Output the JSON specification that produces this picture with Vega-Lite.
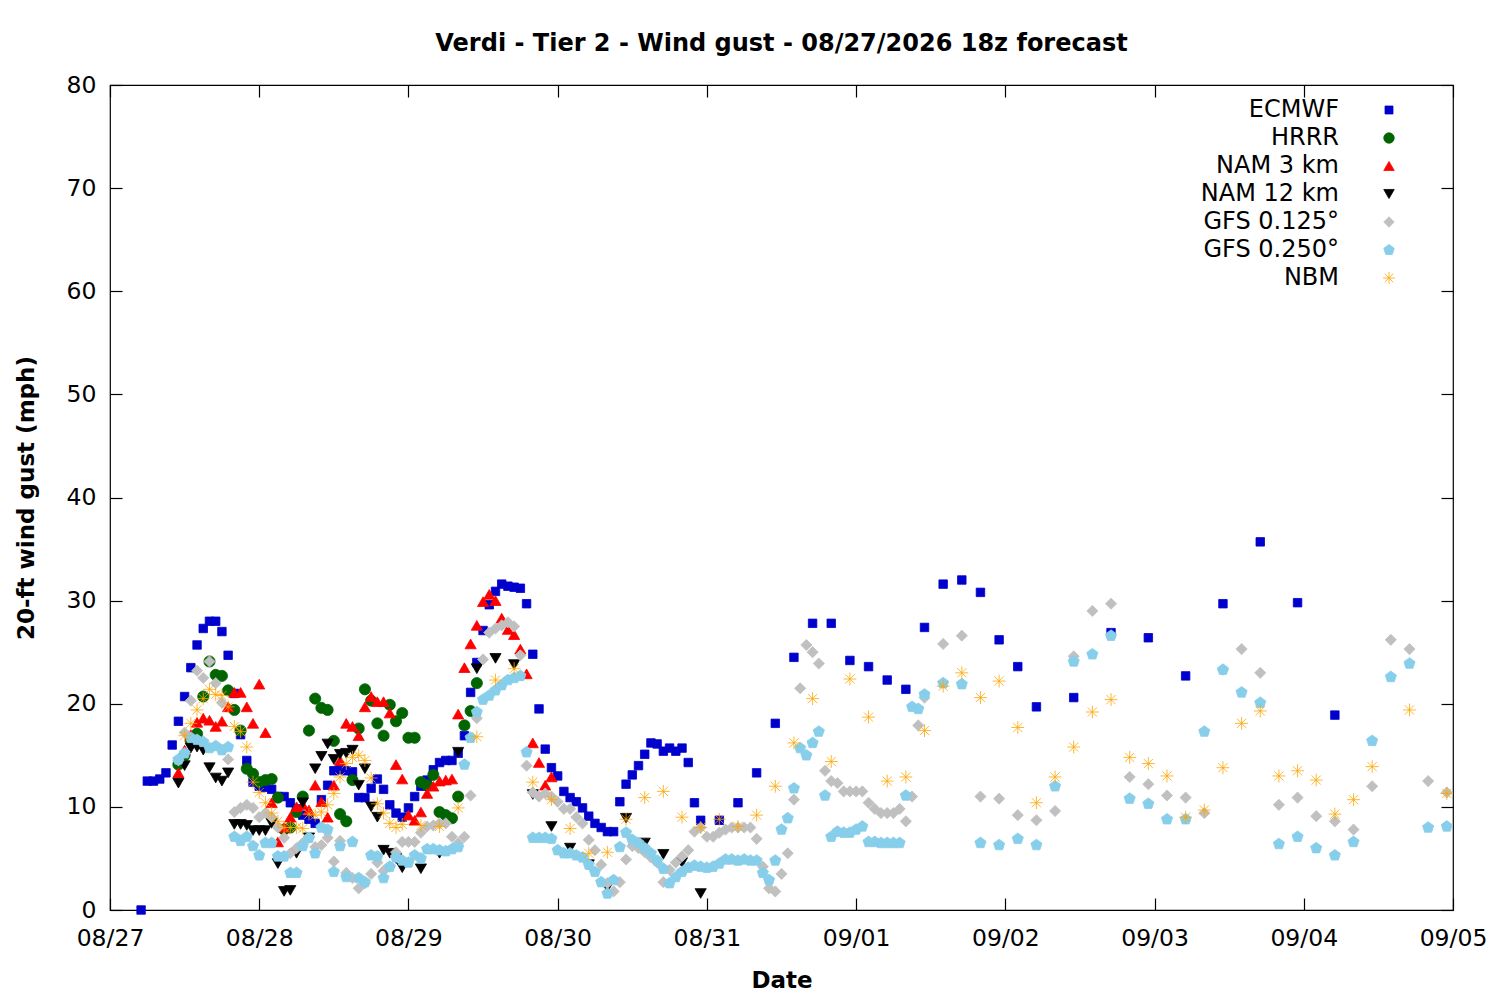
{
  "$schema": "https://vega.github.io/schema/vega-lite/v6.json",
  "width": 1343,
  "height": 825,
  "autosize": {"type": "none"},
  "padding": {"left": 110, "top": 85, "right": 47, "bottom": 90},
  "background": "white",
  "title": {
    "text": "Verdi - Tier 2 - Wind gust - 08/27/2026 18z forecast",
    "font": "DejaVu Sans",
    "fontSize": 24,
    "fontWeight": "bold",
    "color": "black",
    "anchor": "middle",
    "offset": 17
  },
  "config": {
    "view": {"stroke": "black", "strokeWidth": 1.2},
    "axis": {
      "grid": false,
      "domain": false,
      "tickColor": "black",
      "tickWidth": 1.2,
      "tickSize": -12,
      "labelFont": "DejaVu Sans",
      "labelFontSize": 23.5,
      "labelColor": "black",
      "labelOverlap": false,
      "labelFlush": false,
      "titleFont": "DejaVu Sans",
      "titleFontSize": 23,
      "titleFontWeight": "bold",
      "titleColor": "black"
    }
  },
  "data": {
    "values": [
      {"model":"ECMWF","h":5,"v":0},{"model":"ECMWF","h":6,"v":12.5},{"model":"ECMWF","h":7,"v":12.5},{"model":"ECMWF","h":8,"v":12.7},{"model":"ECMWF","h":9,"v":13.3},{"model":"ECMWF","h":10,"v":16.0},{"model":"ECMWF","h":11,"v":18.3},{"model":"ECMWF","h":12,"v":20.7},{"model":"ECMWF","h":13,"v":23.5},{"model":"ECMWF","h":14,"v":25.7},{"model":"ECMWF","h":15,"v":27.3},{"model":"ECMWF","h":16,"v":28.0},{"model":"ECMWF","h":17,"v":28.0},{"model":"ECMWF","h":18,"v":27.0},{"model":"ECMWF","h":19,"v":24.7},{"model":"ECMWF","h":20,"v":21.0},{"model":"ECMWF","h":21,"v":17.0},{"model":"ECMWF","h":22,"v":14.5},{"model":"ECMWF","h":23,"v":12.4},{"model":"ECMWF","h":24,"v":12.0},{"model":"ECMWF","h":25,"v":11.9},{"model":"ECMWF","h":26,"v":11.7},{"model":"ECMWF","h":27,"v":11.0},{"model":"ECMWF","h":28,"v":11.0},{"model":"ECMWF","h":29,"v":10.4},{"model":"ECMWF","h":30,"v":9.8},{"model":"ECMWF","h":31,"v":9.2},{"model":"ECMWF","h":32,"v":8.8},{"model":"ECMWF","h":33,"v":8.4},{"model":"ECMWF","h":34,"v":10.7},{"model":"ECMWF","h":35,"v":12.1},{"model":"ECMWF","h":36,"v":13.5},{"model":"ECMWF","h":37,"v":13.6},{"model":"ECMWF","h":38,"v":13.5},{"model":"ECMWF","h":39,"v":13.4},{"model":"ECMWF","h":40,"v":10.9},{"model":"ECMWF","h":41,"v":10.9},{"model":"ECMWF","h":42,"v":11.8},{"model":"ECMWF","h":43,"v":12.7},{"model":"ECMWF","h":44,"v":11.7},{"model":"ECMWF","h":45,"v":10.2},{"model":"ECMWF","h":46,"v":9.4},{"model":"ECMWF","h":47,"v":9.0},{"model":"ECMWF","h":48,"v":9.9},{"model":"ECMWF","h":49,"v":11.0},{"model":"ECMWF","h":50,"v":12.0},{"model":"ECMWF","h":51,"v":12.6},{"model":"ECMWF","h":52,"v":13.6},{"model":"ECMWF","h":53,"v":14.3},{"model":"ECMWF","h":54,"v":14.5},{"model":"ECMWF","h":55,"v":14.5},{"model":"ECMWF","h":56,"v":15.2},{"model":"ECMWF","h":57,"v":16.9},{"model":"ECMWF","h":58,"v":21.1},{"model":"ECMWF","h":59,"v":24.0},{"model":"ECMWF","h":60,"v":27.1},{"model":"ECMWF","h":61,"v":29.6},{"model":"ECMWF","h":62,"v":30.9},{"model":"ECMWF","h":63,"v":31.6},{"model":"ECMWF","h":64,"v":31.4},{"model":"ECMWF","h":65,"v":31.3},{"model":"ECMWF","h":66,"v":31.2},{"model":"ECMWF","h":67,"v":29.7},{"model":"ECMWF","h":68,"v":24.8},{"model":"ECMWF","h":69,"v":19.5},{"model":"ECMWF","h":70,"v":15.6},{"model":"ECMWF","h":71,"v":13.8},{"model":"ECMWF","h":72,"v":13.0},{"model":"ECMWF","h":73,"v":11.5},{"model":"ECMWF","h":74,"v":10.9},{"model":"ECMWF","h":75,"v":10.5},{"model":"ECMWF","h":76,"v":9.9},{"model":"ECMWF","h":77,"v":9.1},{"model":"ECMWF","h":78,"v":8.4},{"model":"ECMWF","h":79,"v":8.0},{"model":"ECMWF","h":80,"v":7.6},{"model":"ECMWF","h":81,"v":7.6},{"model":"ECMWF","h":82,"v":10.5},{"model":"ECMWF","h":83,"v":12.2},{"model":"ECMWF","h":84,"v":13.1},{"model":"ECMWF","h":85,"v":14.0},{"model":"ECMWF","h":86,"v":15.1},{"model":"ECMWF","h":87,"v":16.2},{"model":"ECMWF","h":88,"v":16.1},{"model":"ECMWF","h":89,"v":15.4},{"model":"ECMWF","h":90,"v":15.7},{"model":"ECMWF","h":91,"v":15.4},{"model":"ECMWF","h":92,"v":15.7},{"model":"ECMWF","h":93,"v":14.3},{"model":"ECMWF","h":94,"v":10.4},{"model":"ECMWF","h":95,"v":8.7},{"model":"ECMWF","h":98,"v":8.7},{"model":"ECMWF","h":101,"v":10.4},{"model":"ECMWF","h":104,"v":13.3},{"model":"ECMWF","h":107,"v":18.1},{"model":"ECMWF","h":110,"v":24.5},{"model":"ECMWF","h":113,"v":27.8},{"model":"ECMWF","h":116,"v":27.8},{"model":"ECMWF","h":119,"v":24.2},{"model":"ECMWF","h":122,"v":23.6},{"model":"ECMWF","h":125,"v":22.3},{"model":"ECMWF","h":128,"v":21.4},{"model":"ECMWF","h":131,"v":27.4},{"model":"ECMWF","h":134,"v":31.6},{"model":"ECMWF","h":137,"v":32.0},{"model":"ECMWF","h":140,"v":30.8},{"model":"ECMWF","h":143,"v":26.2},{"model":"ECMWF","h":146,"v":23.6},{"model":"ECMWF","h":149,"v":19.7},{"model":"ECMWF","h":155,"v":20.6},{"model":"ECMWF","h":161,"v":26.9},{"model":"ECMWF","h":167,"v":26.4},{"model":"ECMWF","h":173,"v":22.7},{"model":"ECMWF","h":179,"v":29.7},{"model":"ECMWF","h":185,"v":35.7},{"model":"ECMWF","h":191,"v":29.8},{"model":"ECMWF","h":197,"v":18.9},

      {"model":"HRRR","h":11,"v":14.1},{"model":"HRRR","h":12,"v":15.0},{"model":"HRRR","h":13,"v":16.4},{"model":"HRRR","h":14,"v":17.1},{"model":"HRRR","h":15,"v":20.7},{"model":"HRRR","h":16,"v":24.1},{"model":"HRRR","h":17,"v":22.8},{"model":"HRRR","h":18,"v":22.7},{"model":"HRRR","h":19,"v":21.3},{"model":"HRRR","h":20,"v":19.4},{"model":"HRRR","h":21,"v":17.4},{"model":"HRRR","h":22,"v":13.7},{"model":"HRRR","h":23,"v":13.2},{"model":"HRRR","h":24,"v":12.4},{"model":"HRRR","h":25,"v":12.6},{"model":"HRRR","h":26,"v":12.7},{"model":"HRRR","h":27,"v":10.9},{"model":"HRRR","h":28,"v":7.8},{"model":"HRRR","h":29,"v":8.0},{"model":"HRRR","h":30,"v":9.5},{"model":"HRRR","h":31,"v":11.0},{"model":"HRRR","h":32,"v":17.4},{"model":"HRRR","h":33,"v":20.5},{"model":"HRRR","h":34,"v":19.6},{"model":"HRRR","h":35,"v":19.4},{"model":"HRRR","h":36,"v":16.4},{"model":"HRRR","h":37,"v":9.3},{"model":"HRRR","h":38,"v":8.6},{"model":"HRRR","h":39,"v":12.6},{"model":"HRRR","h":40,"v":17.6},{"model":"HRRR","h":41,"v":21.4},{"model":"HRRR","h":42,"v":20.3},{"model":"HRRR","h":43,"v":18.1},{"model":"HRRR","h":44,"v":16.9},{"model":"HRRR","h":45,"v":19.9},{"model":"HRRR","h":46,"v":18.3},{"model":"HRRR","h":47,"v":19.1},{"model":"HRRR","h":48,"v":16.7},{"model":"HRRR","h":49,"v":16.7},{"model":"HRRR","h":50,"v":12.4},{"model":"HRRR","h":51,"v":12.1},{"model":"HRRR","h":52,"v":13.1},{"model":"HRRR","h":53,"v":9.5},{"model":"HRRR","h":54,"v":9.2},{"model":"HRRR","h":55,"v":8.9},{"model":"HRRR","h":56,"v":11.0},{"model":"HRRR","h":57,"v":17.9},{"model":"HRRR","h":58,"v":19.3},{"model":"HRRR","h":59,"v":22.0},

      {"model":"NAM 3 km","h":11,"v":13.3},{"model":"NAM 3 km","h":12,"v":15.5},{"model":"NAM 3 km","h":13,"v":17.0},{"model":"NAM 3 km","h":14,"v":18.2},{"model":"NAM 3 km","h":15,"v":18.6},{"model":"NAM 3 km","h":16,"v":18.4},{"model":"NAM 3 km","h":17,"v":17.8},{"model":"NAM 3 km","h":18,"v":18.3},{"model":"NAM 3 km","h":19,"v":19.7},{"model":"NAM 3 km","h":20,"v":21.1},{"model":"NAM 3 km","h":21,"v":21.1},{"model":"NAM 3 km","h":22,"v":19.7},{"model":"NAM 3 km","h":23,"v":18.1},{"model":"NAM 3 km","h":24,"v":21.9},{"model":"NAM 3 km","h":25,"v":17.2},{"model":"NAM 3 km","h":26,"v":10.4},{"model":"NAM 3 km","h":27,"v":6.6},{"model":"NAM 3 km","h":28,"v":8.0},{"model":"NAM 3 km","h":29,"v":9.0},{"model":"NAM 3 km","h":30,"v":10.0},{"model":"NAM 3 km","h":31,"v":10.2},{"model":"NAM 3 km","h":32,"v":9.7},{"model":"NAM 3 km","h":33,"v":12.1},{"model":"NAM 3 km","h":34,"v":10.5},{"model":"NAM 3 km","h":35,"v":9.0},{"model":"NAM 3 km","h":36,"v":12.1},{"model":"NAM 3 km","h":37,"v":14.5},{"model":"NAM 3 km","h":38,"v":18.1},{"model":"NAM 3 km","h":39,"v":17.8},{"model":"NAM 3 km","h":40,"v":16.9},{"model":"NAM 3 km","h":41,"v":19.7},{"model":"NAM 3 km","h":42,"v":20.7},{"model":"NAM 3 km","h":43,"v":20.2},{"model":"NAM 3 km","h":44,"v":20.2},{"model":"NAM 3 km","h":45,"v":19.1},{"model":"NAM 3 km","h":46,"v":14.1},{"model":"NAM 3 km","h":47,"v":12.7},{"model":"NAM 3 km","h":48,"v":9.2},{"model":"NAM 3 km","h":49,"v":8.7},{"model":"NAM 3 km","h":50,"v":9.5},{"model":"NAM 3 km","h":51,"v":11.3},{"model":"NAM 3 km","h":52,"v":12.0},{"model":"NAM 3 km","h":53,"v":12.5},{"model":"NAM 3 km","h":54,"v":12.6},{"model":"NAM 3 km","h":55,"v":12.7},{"model":"NAM 3 km","h":56,"v":19.0},{"model":"NAM 3 km","h":57,"v":23.5},{"model":"NAM 3 km","h":58,"v":25.8},{"model":"NAM 3 km","h":59,"v":27.6},{"model":"NAM 3 km","h":60,"v":29.9},{"model":"NAM 3 km","h":61,"v":30.6},{"model":"NAM 3 km","h":62,"v":30.0},{"model":"NAM 3 km","h":63,"v":28.3},{"model":"NAM 3 km","h":64,"v":27.2},{"model":"NAM 3 km","h":65,"v":26.7},{"model":"NAM 3 km","h":66,"v":25.3},{"model":"NAM 3 km","h":67,"v":22.9},{"model":"NAM 3 km","h":68,"v":16.2},{"model":"NAM 3 km","h":69,"v":14.3},{"model":"NAM 3 km","h":70,"v":12.1},{"model":"NAM 3 km","h":71,"v":12.9},

      {"model":"NAM 12 km","h":11,"v":12.3},{"model":"NAM 12 km","h":12,"v":14.0},{"model":"NAM 12 km","h":13,"v":15.7},{"model":"NAM 12 km","h":14,"v":15.8},{"model":"NAM 12 km","h":15,"v":15.5},{"model":"NAM 12 km","h":16,"v":13.8},{"model":"NAM 12 km","h":17,"v":12.8},{"model":"NAM 12 km","h":18,"v":12.5},{"model":"NAM 12 km","h":19,"v":13.3},{"model":"NAM 12 km","h":20,"v":8.3},{"model":"NAM 12 km","h":21,"v":8.3},{"model":"NAM 12 km","h":22,"v":8.2},{"model":"NAM 12 km","h":23,"v":7.7},{"model":"NAM 12 km","h":24,"v":7.7},{"model":"NAM 12 km","h":25,"v":7.7},{"model":"NAM 12 km","h":26,"v":8.4},{"model":"NAM 12 km","h":27,"v":4.5},{"model":"NAM 12 km","h":28,"v":1.8},{"model":"NAM 12 km","h":29,"v":1.9},{"model":"NAM 12 km","h":30,"v":5.5},{"model":"NAM 12 km","h":31,"v":10.4},{"model":"NAM 12 km","h":32,"v":7.0},{"model":"NAM 12 km","h":33,"v":13.7},{"model":"NAM 12 km","h":34,"v":14.9},{"model":"NAM 12 km","h":35,"v":16.1},{"model":"NAM 12 km","h":36,"v":14.6},{"model":"NAM 12 km","h":37,"v":15.1},{"model":"NAM 12 km","h":38,"v":15.2},{"model":"NAM 12 km","h":39,"v":15.5},{"model":"NAM 12 km","h":40,"v":12.1},{"model":"NAM 12 km","h":41,"v":13.7},{"model":"NAM 12 km","h":42,"v":10.0},{"model":"NAM 12 km","h":43,"v":9.0},{"model":"NAM 12 km","h":44,"v":5.8},{"model":"NAM 12 km","h":45,"v":5.5},{"model":"NAM 12 km","h":46,"v":5.0},{"model":"NAM 12 km","h":47,"v":4.1},{"model":"NAM 12 km","h":50,"v":4.0},{"model":"NAM 12 km","h":53,"v":5.5},{"model":"NAM 12 km","h":56,"v":15.3},{"model":"NAM 12 km","h":59,"v":23.4},{"model":"NAM 12 km","h":62,"v":24.4},{"model":"NAM 12 km","h":65,"v":23.8},{"model":"NAM 12 km","h":68,"v":11.2},{"model":"NAM 12 km","h":71,"v":8.1},{"model":"NAM 12 km","h":74,"v":6.0},{"model":"NAM 12 km","h":77,"v":4.4},{"model":"NAM 12 km","h":80,"v":2.2},{"model":"NAM 12 km","h":83,"v":8.9},{"model":"NAM 12 km","h":86,"v":6.5},{"model":"NAM 12 km","h":89,"v":5.4},{"model":"NAM 12 km","h":92,"v":4.6},{"model":"NAM 12 km","h":95,"v":1.6},

      {"model":"GFS 0.125°","h":11,"v":14.5},{"model":"GFS 0.125°","h":12,"v":17.2},{"model":"GFS 0.125°","h":13,"v":20.3},{"model":"GFS 0.125°","h":14,"v":23.2},{"model":"GFS 0.125°","h":15,"v":22.5},{"model":"GFS 0.125°","h":16,"v":24.1},{"model":"GFS 0.125°","h":17,"v":22.0},{"model":"GFS 0.125°","h":18,"v":20.1},{"model":"GFS 0.125°","h":19,"v":14.6},{"model":"GFS 0.125°","h":20,"v":9.5},{"model":"GFS 0.125°","h":21,"v":9.9},{"model":"GFS 0.125°","h":22,"v":10.2},{"model":"GFS 0.125°","h":23,"v":9.9},{"model":"GFS 0.125°","h":24,"v":9.0},{"model":"GFS 0.125°","h":25,"v":9.4},{"model":"GFS 0.125°","h":26,"v":9.0},{"model":"GFS 0.125°","h":27,"v":8.0},{"model":"GFS 0.125°","h":28,"v":7.0},{"model":"GFS 0.125°","h":29,"v":5.5},{"model":"GFS 0.125°","h":30,"v":6.0},{"model":"GFS 0.125°","h":31,"v":6.5},{"model":"GFS 0.125°","h":32,"v":7.0},{"model":"GFS 0.125°","h":33,"v":6.1},{"model":"GFS 0.125°","h":34,"v":6.3},{"model":"GFS 0.125°","h":35,"v":7.0},{"model":"GFS 0.125°","h":36,"v":4.7},{"model":"GFS 0.125°","h":37,"v":6.7},{"model":"GFS 0.125°","h":38,"v":3.6},{"model":"GFS 0.125°","h":39,"v":3.1},{"model":"GFS 0.125°","h":40,"v":2.1},{"model":"GFS 0.125°","h":41,"v":2.6},{"model":"GFS 0.125°","h":42,"v":3.5},{"model":"GFS 0.125°","h":43,"v":4.6},{"model":"GFS 0.125°","h":44,"v":3.8},{"model":"GFS 0.125°","h":45,"v":4.2},{"model":"GFS 0.125°","h":46,"v":5.6},{"model":"GFS 0.125°","h":47,"v":6.6},{"model":"GFS 0.125°","h":48,"v":6.6},{"model":"GFS 0.125°","h":49,"v":6.6},{"model":"GFS 0.125°","h":50,"v":7.5},{"model":"GFS 0.125°","h":51,"v":8.1},{"model":"GFS 0.125°","h":52,"v":8.2},{"model":"GFS 0.125°","h":53,"v":8.4},{"model":"GFS 0.125°","h":54,"v":8.4},{"model":"GFS 0.125°","h":55,"v":7.1},{"model":"GFS 0.125°","h":56,"v":6.5},{"model":"GFS 0.125°","h":57,"v":7.1},{"model":"GFS 0.125°","h":58,"v":11.1},{"model":"GFS 0.125°","h":59,"v":18.6},{"model":"GFS 0.125°","h":60,"v":24.3},{"model":"GFS 0.125°","h":61,"v":26.9},{"model":"GFS 0.125°","h":62,"v":27.3},{"model":"GFS 0.125°","h":63,"v":27.6},{"model":"GFS 0.125°","h":64,"v":27.9},{"model":"GFS 0.125°","h":65,"v":27.5},{"model":"GFS 0.125°","h":66,"v":24.7},{"model":"GFS 0.125°","h":67,"v":14.0},{"model":"GFS 0.125°","h":68,"v":11.4},{"model":"GFS 0.125°","h":69,"v":11.0},{"model":"GFS 0.125°","h":70,"v":11.3},{"model":"GFS 0.125°","h":71,"v":11.0},{"model":"GFS 0.125°","h":72,"v":10.5},{"model":"GFS 0.125°","h":73,"v":9.8},{"model":"GFS 0.125°","h":74,"v":9.8},{"model":"GFS 0.125°","h":75,"v":9.0},{"model":"GFS 0.125°","h":76,"v":8.4},{"model":"GFS 0.125°","h":77,"v":6.8},{"model":"GFS 0.125°","h":78,"v":5.8},{"model":"GFS 0.125°","h":79,"v":4.4},{"model":"GFS 0.125°","h":80,"v":2.6},{"model":"GFS 0.125°","h":81,"v":1.8},{"model":"GFS 0.125°","h":82,"v":2.7},{"model":"GFS 0.125°","h":83,"v":4.9},{"model":"GFS 0.125°","h":84,"v":6.2},{"model":"GFS 0.125°","h":85,"v":6.0},{"model":"GFS 0.125°","h":86,"v":5.6},{"model":"GFS 0.125°","h":87,"v":5.1},{"model":"GFS 0.125°","h":88,"v":4.6},{"model":"GFS 0.125°","h":89,"v":2.7},{"model":"GFS 0.125°","h":90,"v":3.9},{"model":"GFS 0.125°","h":91,"v":4.6},{"model":"GFS 0.125°","h":92,"v":5.2},{"model":"GFS 0.125°","h":93,"v":5.8},{"model":"GFS 0.125°","h":94,"v":7.6},{"model":"GFS 0.125°","h":95,"v":8.0},{"model":"GFS 0.125°","h":96,"v":7.1},{"model":"GFS 0.125°","h":97,"v":7.1},{"model":"GFS 0.125°","h":98,"v":7.5},{"model":"GFS 0.125°","h":99,"v":7.8},{"model":"GFS 0.125°","h":100,"v":8.0},{"model":"GFS 0.125°","h":101,"v":8.0},{"model":"GFS 0.125°","h":102,"v":8.0},{"model":"GFS 0.125°","h":103,"v":8.0},{"model":"GFS 0.125°","h":104,"v":6.9},{"model":"GFS 0.125°","h":105,"v":4.2},{"model":"GFS 0.125°","h":106,"v":2.1},{"model":"GFS 0.125°","h":107,"v":1.8},{"model":"GFS 0.125°","h":108,"v":3.5},{"model":"GFS 0.125°","h":109,"v":5.5},{"model":"GFS 0.125°","h":110,"v":10.7},{"model":"GFS 0.125°","h":111,"v":21.5},{"model":"GFS 0.125°","h":112,"v":25.7},{"model":"GFS 0.125°","h":113,"v":25.0},{"model":"GFS 0.125°","h":114,"v":23.9},{"model":"GFS 0.125°","h":115,"v":13.5},{"model":"GFS 0.125°","h":116,"v":12.5},{"model":"GFS 0.125°","h":117,"v":12.3},{"model":"GFS 0.125°","h":118,"v":11.5},{"model":"GFS 0.125°","h":119,"v":11.5},{"model":"GFS 0.125°","h":120,"v":11.5},{"model":"GFS 0.125°","h":121,"v":11.5},{"model":"GFS 0.125°","h":122,"v":10.4},{"model":"GFS 0.125°","h":123,"v":9.8},{"model":"GFS 0.125°","h":124,"v":9.4},{"model":"GFS 0.125°","h":125,"v":9.4},{"model":"GFS 0.125°","h":126,"v":9.4},{"model":"GFS 0.125°","h":127,"v":9.8},{"model":"GFS 0.125°","h":128,"v":8.6},{"model":"GFS 0.125°","h":129,"v":11.0},{"model":"GFS 0.125°","h":130,"v":17.9},{"model":"GFS 0.125°","h":131,"v":20.6},{"model":"GFS 0.125°","h":134,"v":25.8},{"model":"GFS 0.125°","h":137,"v":26.6},{"model":"GFS 0.125°","h":140,"v":11.0},{"model":"GFS 0.125°","h":143,"v":10.8},{"model":"GFS 0.125°","h":146,"v":9.2},{"model":"GFS 0.125°","h":149,"v":8.7},{"model":"GFS 0.125°","h":152,"v":9.6},{"model":"GFS 0.125°","h":155,"v":24.6},{"model":"GFS 0.125°","h":158,"v":29.0},{"model":"GFS 0.125°","h":161,"v":29.7},{"model":"GFS 0.125°","h":164,"v":12.9},{"model":"GFS 0.125°","h":167,"v":12.2},{"model":"GFS 0.125°","h":170,"v":11.1},{"model":"GFS 0.125°","h":173,"v":10.9},{"model":"GFS 0.125°","h":176,"v":9.4},{"model":"GFS 0.125°","h":179,"v":23.3},{"model":"GFS 0.125°","h":182,"v":25.3},{"model":"GFS 0.125°","h":185,"v":23.0},{"model":"GFS 0.125°","h":188,"v":10.2},{"model":"GFS 0.125°","h":191,"v":10.9},{"model":"GFS 0.125°","h":194,"v":9.1},{"model":"GFS 0.125°","h":197,"v":8.6},{"model":"GFS 0.125°","h":200,"v":7.8},{"model":"GFS 0.125°","h":203,"v":12.0},{"model":"GFS 0.125°","h":206,"v":26.2},{"model":"GFS 0.125°","h":209,"v":25.3},{"model":"GFS 0.125°","h":212,"v":12.5},{"model":"GFS 0.125°","h":215,"v":11.4},

      {"model":"GFS 0.250°","h":11,"v":14.6},{"model":"GFS 0.250°","h":12,"v":15.2},{"model":"GFS 0.250°","h":13,"v":16.7},{"model":"GFS 0.250°","h":14,"v":16.5},{"model":"GFS 0.250°","h":15,"v":16.3},{"model":"GFS 0.250°","h":16,"v":15.7},{"model":"GFS 0.250°","h":17,"v":15.9},{"model":"GFS 0.250°","h":18,"v":15.5},{"model":"GFS 0.250°","h":19,"v":15.8},{"model":"GFS 0.250°","h":20,"v":7.1},{"model":"GFS 0.250°","h":21,"v":6.7},{"model":"GFS 0.250°","h":22,"v":7.1},{"model":"GFS 0.250°","h":23,"v":6.2},{"model":"GFS 0.250°","h":24,"v":5.3},{"model":"GFS 0.250°","h":25,"v":6.5},{"model":"GFS 0.250°","h":26,"v":6.5},{"model":"GFS 0.250°","h":27,"v":5.2},{"model":"GFS 0.250°","h":28,"v":5.2},{"model":"GFS 0.250°","h":29,"v":3.6},{"model":"GFS 0.250°","h":30,"v":3.6},{"model":"GFS 0.250°","h":31,"v":6.2},{"model":"GFS 0.250°","h":32,"v":7.0},{"model":"GFS 0.250°","h":33,"v":5.5},{"model":"GFS 0.250°","h":34,"v":8.0},{"model":"GFS 0.250°","h":35,"v":7.8},{"model":"GFS 0.250°","h":36,"v":3.7},{"model":"GFS 0.250°","h":37,"v":6.2},{"model":"GFS 0.250°","h":38,"v":3.2},{"model":"GFS 0.250°","h":39,"v":6.6},{"model":"GFS 0.250°","h":40,"v":3.1},{"model":"GFS 0.250°","h":41,"v":2.7},{"model":"GFS 0.250°","h":42,"v":5.3},{"model":"GFS 0.250°","h":43,"v":5.2},{"model":"GFS 0.250°","h":44,"v":3.1},{"model":"GFS 0.250°","h":45,"v":4.2},{"model":"GFS 0.250°","h":46,"v":5.1},{"model":"GFS 0.250°","h":47,"v":4.8},{"model":"GFS 0.250°","h":48,"v":4.6},{"model":"GFS 0.250°","h":49,"v":5.3},{"model":"GFS 0.250°","h":50,"v":5.0},{"model":"GFS 0.250°","h":51,"v":5.9},{"model":"GFS 0.250°","h":52,"v":5.9},{"model":"GFS 0.250°","h":53,"v":5.8},{"model":"GFS 0.250°","h":54,"v":5.7},{"model":"GFS 0.250°","h":55,"v":5.9},{"model":"GFS 0.250°","h":56,"v":6.1},{"model":"GFS 0.250°","h":57,"v":14.1},{"model":"GFS 0.250°","h":58,"v":16.7},{"model":"GFS 0.250°","h":59,"v":19.2},{"model":"GFS 0.250°","h":60,"v":20.4},{"model":"GFS 0.250°","h":61,"v":20.8},{"model":"GFS 0.250°","h":62,"v":21.3},{"model":"GFS 0.250°","h":63,"v":21.8},{"model":"GFS 0.250°","h":64,"v":22.3},{"model":"GFS 0.250°","h":65,"v":22.5},{"model":"GFS 0.250°","h":66,"v":22.7},{"model":"GFS 0.250°","h":67,"v":15.3},{"model":"GFS 0.250°","h":68,"v":7.0},{"model":"GFS 0.250°","h":69,"v":7.0},{"model":"GFS 0.250°","h":70,"v":7.0},{"model":"GFS 0.250°","h":71,"v":6.9},{"model":"GFS 0.250°","h":72,"v":5.8},{"model":"GFS 0.250°","h":73,"v":5.5},{"model":"GFS 0.250°","h":74,"v":5.5},{"model":"GFS 0.250°","h":75,"v":5.3},{"model":"GFS 0.250°","h":76,"v":5.1},{"model":"GFS 0.250°","h":77,"v":4.4},{"model":"GFS 0.250°","h":78,"v":3.7},{"model":"GFS 0.250°","h":79,"v":2.7},{"model":"GFS 0.250°","h":80,"v":1.6},{"model":"GFS 0.250°","h":81,"v":2.9},{"model":"GFS 0.250°","h":82,"v":6.1},{"model":"GFS 0.250°","h":83,"v":7.5},{"model":"GFS 0.250°","h":84,"v":6.8},{"model":"GFS 0.250°","h":85,"v":6.5},{"model":"GFS 0.250°","h":86,"v":6.0},{"model":"GFS 0.250°","h":87,"v":5.5},{"model":"GFS 0.250°","h":88,"v":4.8},{"model":"GFS 0.250°","h":89,"v":4.0},{"model":"GFS 0.250°","h":90,"v":2.6},{"model":"GFS 0.250°","h":91,"v":3.2},{"model":"GFS 0.250°","h":92,"v":3.7},{"model":"GFS 0.250°","h":93,"v":4.1},{"model":"GFS 0.250°","h":94,"v":4.3},{"model":"GFS 0.250°","h":95,"v":4.2},{"model":"GFS 0.250°","h":96,"v":4.1},{"model":"GFS 0.250°","h":97,"v":4.2},{"model":"GFS 0.250°","h":98,"v":4.5},{"model":"GFS 0.250°","h":99,"v":4.9},{"model":"GFS 0.250°","h":100,"v":4.9},{"model":"GFS 0.250°","h":101,"v":4.8},{"model":"GFS 0.250°","h":102,"v":4.9},{"model":"GFS 0.250°","h":103,"v":4.8},{"model":"GFS 0.250°","h":104,"v":4.8},{"model":"GFS 0.250°","h":105,"v":3.6},{"model":"GFS 0.250°","h":106,"v":2.9},{"model":"GFS 0.250°","h":107,"v":4.8},{"model":"GFS 0.250°","h":108,"v":7.8},{"model":"GFS 0.250°","h":109,"v":8.9},{"model":"GFS 0.250°","h":110,"v":11.8},{"model":"GFS 0.250°","h":111,"v":15.7},{"model":"GFS 0.250°","h":112,"v":15.0},{"model":"GFS 0.250°","h":113,"v":16.2},{"model":"GFS 0.250°","h":114,"v":17.3},{"model":"GFS 0.250°","h":115,"v":11.1},{"model":"GFS 0.250°","h":116,"v":7.1},{"model":"GFS 0.250°","h":117,"v":7.6},{"model":"GFS 0.250°","h":118,"v":7.5},{"model":"GFS 0.250°","h":119,"v":7.5},{"model":"GFS 0.250°","h":120,"v":7.8},{"model":"GFS 0.250°","h":121,"v":8.1},{"model":"GFS 0.250°","h":122,"v":6.6},{"model":"GFS 0.250°","h":123,"v":6.6},{"model":"GFS 0.250°","h":124,"v":6.5},{"model":"GFS 0.250°","h":125,"v":6.5},{"model":"GFS 0.250°","h":126,"v":6.5},{"model":"GFS 0.250°","h":127,"v":6.5},{"model":"GFS 0.250°","h":128,"v":11.1},{"model":"GFS 0.250°","h":129,"v":19.7},{"model":"GFS 0.250°","h":130,"v":19.5},{"model":"GFS 0.250°","h":131,"v":20.9},{"model":"GFS 0.250°","h":134,"v":22.0},{"model":"GFS 0.250°","h":137,"v":21.9},{"model":"GFS 0.250°","h":140,"v":6.5},{"model":"GFS 0.250°","h":143,"v":6.3},{"model":"GFS 0.250°","h":146,"v":6.9},{"model":"GFS 0.250°","h":149,"v":6.3},{"model":"GFS 0.250°","h":152,"v":12.0},{"model":"GFS 0.250°","h":155,"v":24.1},{"model":"GFS 0.250°","h":158,"v":24.8},{"model":"GFS 0.250°","h":161,"v":26.6},{"model":"GFS 0.250°","h":164,"v":10.8},{"model":"GFS 0.250°","h":167,"v":10.3},{"model":"GFS 0.250°","h":170,"v":8.8},{"model":"GFS 0.250°","h":173,"v":8.8},{"model":"GFS 0.250°","h":176,"v":17.3},{"model":"GFS 0.250°","h":179,"v":23.3},{"model":"GFS 0.250°","h":182,"v":21.1},{"model":"GFS 0.250°","h":185,"v":20.1},{"model":"GFS 0.250°","h":188,"v":6.4},{"model":"GFS 0.250°","h":191,"v":7.1},{"model":"GFS 0.250°","h":194,"v":6.0},{"model":"GFS 0.250°","h":197,"v":5.3},{"model":"GFS 0.250°","h":200,"v":6.6},{"model":"GFS 0.250°","h":203,"v":16.4},{"model":"GFS 0.250°","h":206,"v":22.6},{"model":"GFS 0.250°","h":209,"v":23.9},{"model":"GFS 0.250°","h":212,"v":8.0},{"model":"GFS 0.250°","h":215,"v":8.1},

      {"model":"NBM","h":12,"v":16.9},{"model":"NBM","h":13,"v":18.1},{"model":"NBM","h":14,"v":19.4},{"model":"NBM","h":15,"v":20.5},{"model":"NBM","h":16,"v":21.4},{"model":"NBM","h":17,"v":20.9},{"model":"NBM","h":18,"v":20.8},{"model":"NBM","h":19,"v":19.7},{"model":"NBM","h":20,"v":17.8},{"model":"NBM","h":21,"v":17.3},{"model":"NBM","h":22,"v":15.8},{"model":"NBM","h":23,"v":12.4},{"model":"NBM","h":24,"v":11.4},{"model":"NBM","h":25,"v":10.4},{"model":"NBM","h":26,"v":9.4},{"model":"NBM","h":27,"v":8.6},{"model":"NBM","h":28,"v":8.0},{"model":"NBM","h":29,"v":8.0},{"model":"NBM","h":30,"v":8.0},{"model":"NBM","h":31,"v":7.9},{"model":"NBM","h":32,"v":9.3},{"model":"NBM","h":33,"v":9.2},{"model":"NBM","h":34,"v":9.5},{"model":"NBM","h":35,"v":10.2},{"model":"NBM","h":36,"v":11.3},{"model":"NBM","h":37,"v":12.9},{"model":"NBM","h":38,"v":14.2},{"model":"NBM","h":39,"v":14.8},{"model":"NBM","h":40,"v":15.0},{"model":"NBM","h":41,"v":14.5},{"model":"NBM","h":42,"v":12.8},{"model":"NBM","h":43,"v":10.3},{"model":"NBM","h":44,"v":9.4},{"model":"NBM","h":45,"v":8.4},{"model":"NBM","h":46,"v":8.0},{"model":"NBM","h":47,"v":8.3},{"model":"NBM","h":50,"v":8.2},{"model":"NBM","h":53,"v":8.1},{"model":"NBM","h":56,"v":9.9},{"model":"NBM","h":59,"v":16.8},{"model":"NBM","h":62,"v":22.3},{"model":"NBM","h":65,"v":23.4},{"model":"NBM","h":68,"v":12.4},{"model":"NBM","h":71,"v":10.7},{"model":"NBM","h":74,"v":7.9},{"model":"NBM","h":77,"v":5.5},{"model":"NBM","h":80,"v":5.6},{"model":"NBM","h":83,"v":8.8},{"model":"NBM","h":86,"v":10.9},{"model":"NBM","h":89,"v":11.5},{"model":"NBM","h":92,"v":9.0},{"model":"NBM","h":95,"v":8.0},{"model":"NBM","h":98,"v":8.8},{"model":"NBM","h":101,"v":8.1},{"model":"NBM","h":104,"v":9.2},{"model":"NBM","h":107,"v":12.0},{"model":"NBM","h":110,"v":16.2},{"model":"NBM","h":113,"v":20.5},{"model":"NBM","h":116,"v":14.4},{"model":"NBM","h":119,"v":22.4},{"model":"NBM","h":122,"v":18.7},{"model":"NBM","h":125,"v":12.5},{"model":"NBM","h":128,"v":12.9},{"model":"NBM","h":131,"v":17.4},{"model":"NBM","h":134,"v":21.7},{"model":"NBM","h":137,"v":23.0},{"model":"NBM","h":140,"v":20.6},{"model":"NBM","h":143,"v":22.2},{"model":"NBM","h":146,"v":17.7},{"model":"NBM","h":149,"v":10.4},{"model":"NBM","h":152,"v":12.9},{"model":"NBM","h":155,"v":15.8},{"model":"NBM","h":158,"v":19.2},{"model":"NBM","h":161,"v":20.4},{"model":"NBM","h":164,"v":14.8},{"model":"NBM","h":167,"v":14.2},{"model":"NBM","h":170,"v":13.0},{"model":"NBM","h":173,"v":9.0},{"model":"NBM","h":176,"v":9.7},{"model":"NBM","h":179,"v":13.8},{"model":"NBM","h":182,"v":18.1},{"model":"NBM","h":185,"v":19.3},{"model":"NBM","h":188,"v":13.0},{"model":"NBM","h":191,"v":13.5},{"model":"NBM","h":194,"v":12.6},{"model":"NBM","h":197,"v":9.3},{"model":"NBM","h":200,"v":10.7},{"model":"NBM","h":203,"v":13.9},{"model":"NBM","h":209,"v":19.4},{"model":"NBM","h":215,"v":11.3}
    ]
  },
  "layer": [
    {
      "mark": {"type": "point", "filled": true, "size": 125, "strokeWidth": 0.8, "opacity": 1},
      "encoding": {
        "x": {
          "field": "h",
          "type": "quantitative",
          "scale": {"domain": [0, 216], "nice": false, "zero": false},
          "axis": {
            "orient": "bottom",
            "title": "Date",
            "values": [0, 24, 48, 72, 96, 120, 144, 168, 192, 216],
            "labelExpr": "timeFormat(time(datetime(2026, 7, 27)) + datum.value * 3600000, '%m/%d')",
            "labelPadding": 28,
            "titlePadding": 20
          }
        },
        "y": {
          "field": "v",
          "type": "quantitative",
          "scale": {"domain": [0, 80], "nice": false},
          "axis": {
            "orient": "left",
            "title": "20-ft wind gust (mph)",
            "values": [0, 10, 20, 30, 40, 50, 60, 70, 80],
            "labelPadding": 26,
            "titlePadding": 28
          }
        },
        "color": {
          "field": "model",
          "type": "nominal",
          "scale": {
            "domain": ["ECMWF", "HRRR", "NAM 3 km", "NAM 12 km", "GFS 0.125°", "GFS 0.250°", "NBM"],
            "range": ["#0000cc", "#006400", "#ff0000", "#000000", "#c0c0c0", "#87ceeb", "#ffa500"]
          },
          "legend": {
            "title": null,
            "orient": "none",
            "legendX": 1267,
            "legendY": 13,
            "padding": 0,
            "labelFont": "DejaVu Sans",
            "labelFontSize": 24,
            "labelColor": "black",
            "labelAlign": "right",
            "labelOffset": -62,
            "labelLimit": 400,
            "rowPadding": 4,
            "symbolSize": 110,
            "symbolStrokeWidth": 0.8
          }
        },
        "stroke": {
          "field": "model",
          "type": "nominal",
          "scale": {
            "domain": ["ECMWF", "HRRR", "NAM 3 km", "NAM 12 km", "GFS 0.125°", "GFS 0.250°", "NBM"],
            "range": ["#0000cc", "#006400", "#ff0000", "#000000", "#c0c0c0", "#87ceeb", "#ffa500"]
          }
        },
        "shape": {
          "field": "model",
          "type": "nominal",
          "scale": {
            "domain": ["ECMWF", "HRRR", "NAM 3 km", "NAM 12 km", "GFS 0.125°", "GFS 0.250°", "NBM"],
            "range": [
              "M-0.76,-0.76L0.76,-0.76L0.76,0.76L-0.76,0.76Z",
              "circle",
              "triangle-up",
              "triangle-down",
              "diamond",
              "M0,-1.05L1,-0.32L0.62,0.85L-0.62,0.85L-1,-0.32Z",
              "M0,-1.15L0,1.15M-1.15,0L1.15,0M-0.82,-0.82L0.82,0.82M-0.82,0.82L0.82,-0.82"
            ]
          }
        }
      }
    },
    {
      "data": {"values": [{"h": 0, "v": 0}]},
      "mark": {"type": "point", "opacity": 0},
      "encoding": {
        "x": {
          "field": "h",
          "type": "quantitative",
          "axis": {"orient": "top", "title": null, "labels": false, "values": [0, 24, 48, 72, 96, 120, 144, 168, 192, 216]}
        },
        "y": {
          "field": "v",
          "type": "quantitative",
          "axis": {"orient": "right", "title": null, "labels": false, "values": [0, 10, 20, 30, 40, 50, 60, 70, 80]}
        }
      }
    }
  ],
  "resolve": {"axis": {"x": "independent", "y": "independent"}}
}
